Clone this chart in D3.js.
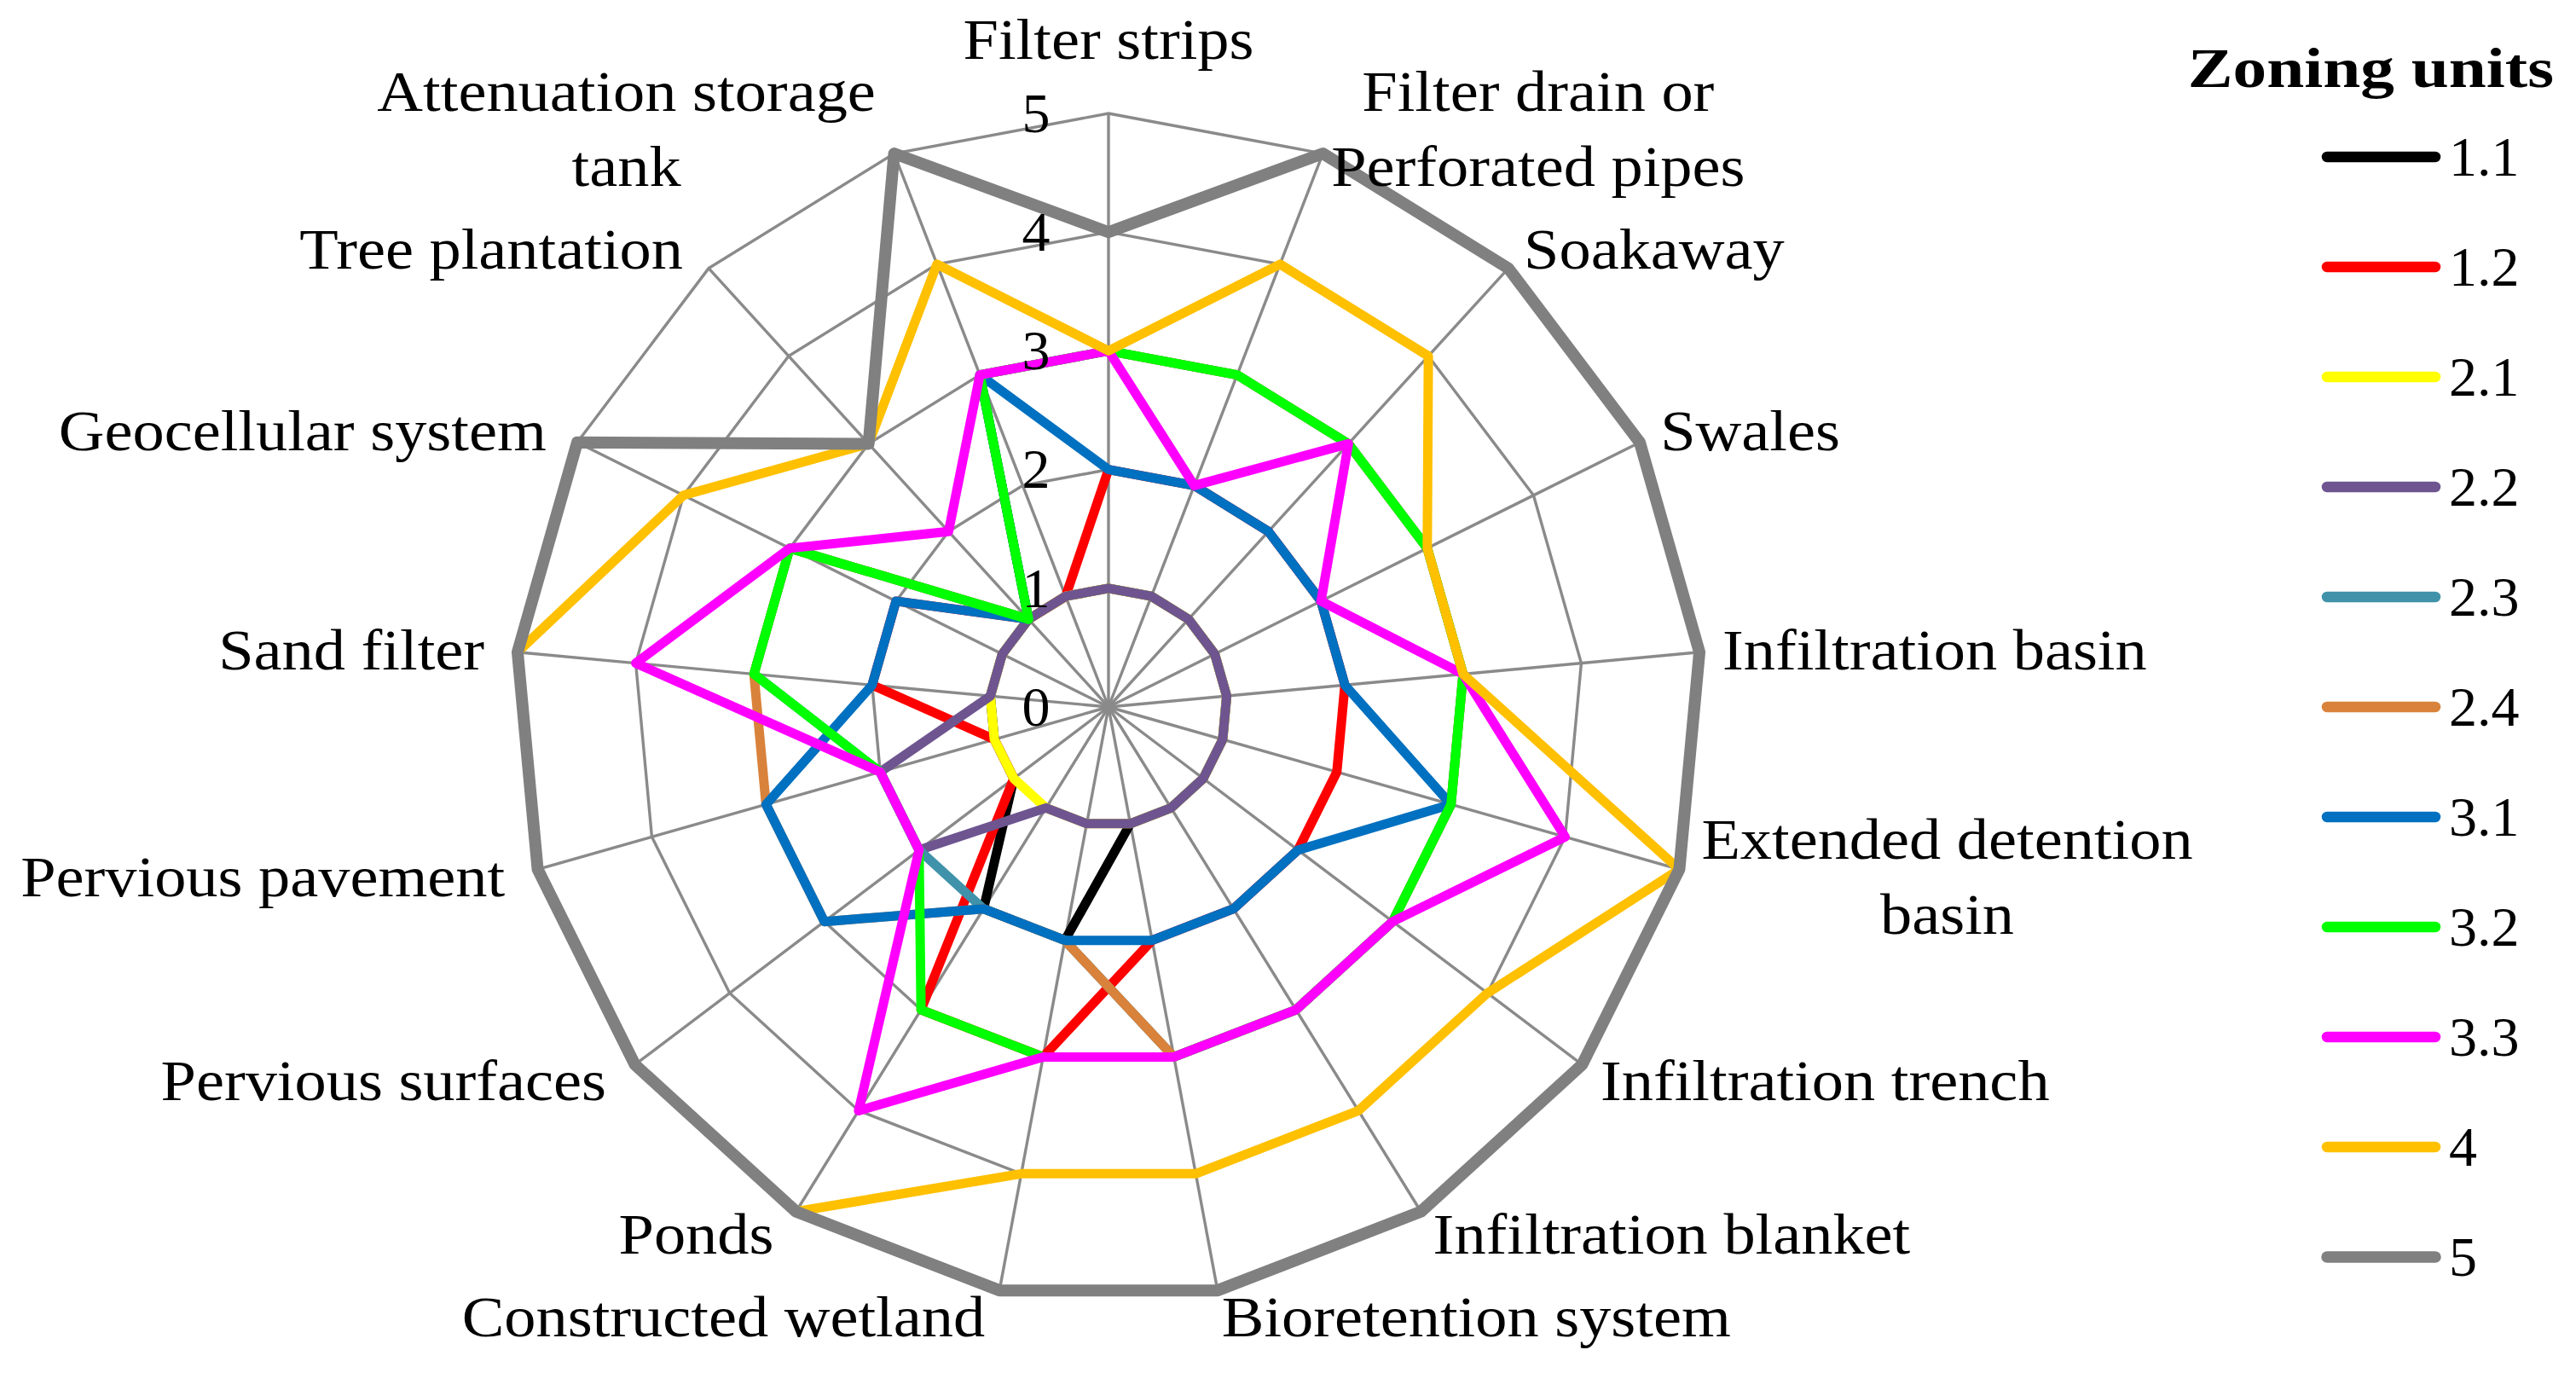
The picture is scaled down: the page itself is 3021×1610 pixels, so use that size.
<!DOCTYPE html>
<html><head><meta charset="utf-8">
<script src="https://cdn.jsdelivr.net/npm/d3@7"></script>
<style>html,body{margin:0;padding:0;background:#fff;} svg{display:block;}</style>
</head><body>
<svg id="chart" width="3021" height="1610"></svg>
<script>
// ---------- data ----------
const categories = ["Filter strips","Filter drain or\nPerforated pipes","Soakaway","Swales","Infiltration basin","Extended detention\nbasin","Infiltration trench","Infiltration blanket","Bioretention system","Constructed wetland","Ponds","Pervious surfaces","Pervious pavement","Sand filter","Geocellular system","Tree plantation","Attenuation storage\ntank"];
const seriesNames = ["1.1","1.2","2.1","2.2","2.3","2.4","3.1","3.2","3.3","4","5"];
const seriesColors = ["#000000","#ff0000","#ffff00","#6e5590","#3f92aa","#d9823b","#0070c0","#00ff00","#ff00ff","#ffc000","#808080"];
const v1_1 = [1,1,1,1,1,1,1,1,1,2,2,1,1,1,1,1,1];
const v1_2 = [2,2,2,2,2,2,2,2,2,3,3,1,1,2,2,1,1];
const v2_1 = [1,1,1,1,1,1,1,1,1,1,1,1,1,1,1,1,1];
const v2_2 = [1,1,1,1,1,1,1,1,1,1,1,2,2,1,1,1,1];
const v2_3 = [3,3,3,3,3,3,3,3,3,2,2,2,2,3,3,1,3];
const v2_4 = [3,3,3,3,3,3,3,3,3,2,2,3,3,3,3,1,3];
const v3_1 = [2,2,2,2,2,3,2,2,2,2,2,3,3,2,2,1,3];
const v3_2 = [3,3,3,3,3,3,3,3,3,3,3,2,2,3,3,1,3];
const v3_3 = [3,2,3,2,3,4,3,3,3,3,4,2,2,4,3,2,3];
const v4   = [3,4,4,3,3,5,4,4,4,4,5,5,5,5,4,3,4];
const v5   = [4,5,5,5,5,5,5,5,5,5,5,5,5,5,5,3,5];
const seriesValues = [v1_1,v1_2,v2_1,v2_2,v2_3,v2_4,v3_1,v3_2,v3_3,v4,v5];
const tickValues = [0,1,2,3,4,5];
const legendTitle = "Zoning units";

// ---------- layout ----------
const cx = 1300, cy = 829, R = 696;
const FONT = "'Liberation Serif', 'Times New Roman', serif";
const FS = 67, STRETCH = 1.11;
const svg = d3.select("#chart");
const r = d3.scaleLinear().domain([0, 5]).range([0, R]);
const angle = d3.scaleLinear().domain([0, categories.length]).range([0, 2 * Math.PI]);
const idx = d3.range(categories.length);

const root = svg.append("g").attr("transform", `translate(${cx},${cy})`);

// grid
const gridColor = "#8a8a8a";
const gridLine = d3.lineRadial().angle(i => angle(i)).curve(d3.curveLinearClosed);
tickValues.filter(t => t > 0).forEach(t => {
  root.append("path")
    .attr("d", gridLine.radius(() => r(t))(idx))
    .attr("fill", "none").attr("stroke", gridColor).attr("stroke-width", 3.4);
});
root.selectAll("line.spoke").data(idx).join("line").attr("class", "spoke")
  .attr("x1", 0).attr("y1", 0)
  .attr("x2", i => r(5) * Math.sin(angle(i)))
  .attr("y2", i => -r(5) * Math.cos(angle(i)))
  .attr("stroke", gridColor).attr("stroke-width", 3.4);

// series
const line = d3.lineRadial().angle((d, i) => angle(i)).radius(d => r(d)).curve(d3.curveLinearClosed);
seriesValues.forEach((vals, s) => {
  root.append("path")
    .attr("d", line(vals))
    .attr("fill", "none")
    .attr("stroke", seriesColors[s])
    .attr("stroke-width", seriesNames[s] === "5" ? 14 : 11)
    .attr("stroke-linejoin", "round");
});

// tick labels
root.selectAll("text.tick").data(tickValues).join("text").attr("class", "tick")
  .attr("x", -85).attr("y", d => -r(d) + 66 * 0.33)
  .attr("text-anchor", "middle")
  .attr("font-family", FONT).attr("font-size", 66).attr("fill", "#000")
  .text(d => d);

// category labels
categories.forEach((cat, i) => {
  const a = angle(i), s = Math.sin(a), c = Math.cos(a);
  const ex = r(5) * s, ey = -r(5) * c;
  const g = root.append("g");
  const t = g.append("text").attr("text-anchor", "middle")
    .attr("font-family", FONT).attr("font-size", FS).attr("fill", "#000");
  cat.split("\n").forEach((ln, k) => {
    const ts = t.append("tspan").attr("x", 0).attr("y", k * 88).text(ln);
    const L = ts.node().getComputedTextLength();
    ts.attr("textLength", L * STRETCH).attr("lengthAdjust", "spacingAndGlyphs");
  });
  const bb = g.node().getBBox();
  let tx, ty;
  if (Math.abs(s) < 0.05) {
    tx = ex - (bb.x + bb.width / 2);
    ty = (ey - 87) - (bb.y + bb.height / 2);
  } else {
    ty = (ey - 31 * c) - (bb.y + bb.height / 2);
    if (s > 0) tx = (ex + 27 * s) - bb.x;
    else tx = (ex + 27 * s - 12) - (bb.x + bb.width);
  }
  g.attr("transform", `translate(${tx},${ty})`);
});

// legend
const lg = svg.append("g");
const title = lg.append("text").attr("x", 2995).attr("y", 102)
  .attr("text-anchor", "end").attr("font-family", FONT).attr("font-weight", "bold")
  .attr("font-size", 66).attr("fill", "#000").text(legendTitle);
const tl = title.node().getComputedTextLength();
title.attr("textLength", tl * 1.2).attr("lengthAdjust", "spacingAndGlyphs");

const ly = d3.scalePoint().domain(seriesNames).range([184, 1474]);
seriesNames.forEach((nm, s) => {
  lg.append("line").attr("x1", 2729).attr("x2", 2856)
    .attr("y1", ly(nm)).attr("y2", ly(nm))
    .attr("stroke", seriesColors[s]).attr("stroke-width", nm === "5" ? 13.5 : 12.5)
    .attr("stroke-linecap", "round");
  lg.append("text").attr("x", 2872).attr("y", ly(nm) + 66 * 0.33)
    .attr("font-family", FONT).attr("font-size", 66).attr("fill", "#000")
    .text(nm);
});
</script>
</body></html>
